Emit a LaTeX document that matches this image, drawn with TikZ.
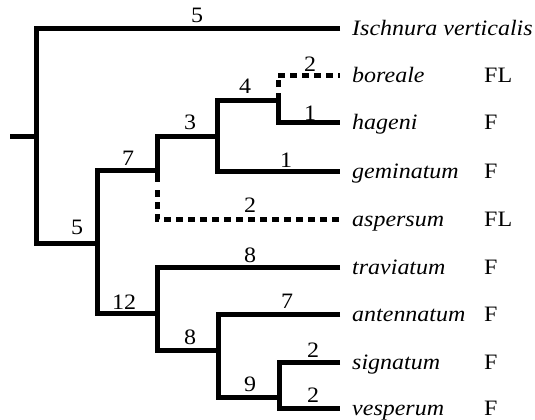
\documentclass[tikz,border=0pt]{standalone}
\usepackage{fontspec}
\setmainfont{Liberation Serif}[FakeStretch=1.09]
\begin{document}
\begin{tikzpicture}[x=1bp,y=-1bp,
    branch/.style={line width=5bp,line join=miter,line cap=butt},
    lossbranch/.style={branch,dash pattern=on 7bp off 5bp},
    brlen/.style={inner sep=0pt,font=\fontsize{22bp}{26bp}\selectfont},
    taxon/.style={anchor=base west,inner sep=0pt,font=\fontsize{22bp}{26bp}\selectfont\itshape},
    trait/.style={anchor=base west,inner sep=0pt,font=\fontsize{22bp}{26bp}\selectfont}]
  \useasboundingbox (0,0) rectangle (535,419);

  % branch tips (right ends of the terminal branches)
  \coordinate (tIsc) at (340,28);
  \coordinate (tBor) at (340,75);
  \coordinate (tHag) at (340,122);
  \coordinate (tGem) at (340,171);
  \coordinate (tAsp) at (340,219);
  \coordinate (tTra) at (340,267);
  \coordinate (tAnt) at (340,314);
  \coordinate (tSig) at (340,362);
  \coordinate (tVes) at (340,408);

  % internal nodes (where each stem meets its vertical bar)
  \coordinate (base) at (10,136);
  \coordinate (root) at (36,136);
  \coordinate (nA) at (97,243);
  \coordinate (nB) at (157,170);
  \coordinate (nBs) at (157,182);
  \coordinate (nBd) at (157,190);
  \coordinate (nC) at (217,136);
  \coordinate (nD) at (278,100);
  \coordinate (nDs) at (278,93);
  \coordinate (nDd) at (278,87);
  \coordinate (nE) at (157,313);
  \coordinate (nF) at (218,350);
  \coordinate (nG) at (279,397);

  % tree
  \draw[branch] (base) -- (root);
  \draw[branch] (tIsc) -| (root) |- (nA);
  \draw[branch] (nB) -| (nA) |- (nE);
  \draw[branch] (nC) -| (nB) -- (nBs);
  \draw[lossbranch] (nBd) |- (tAsp);
  \draw[branch] (nD) -| (nC) |- (tGem);
  \draw[branch] (nDs) |- (tHag);
  \draw[lossbranch] (nDd) |- (tBor);
  \draw[branch] (tTra) -| (nE) |- (nF);
  \draw[branch] (tAnt) -| (nF) |- (nG);
  \draw[branch] (tSig) -| (nG) |- (tVes);

  % branch lengths
  \node[brlen] (lIsc) at (197,15.5) {5};
  \node[brlen] (lBor) at (310,64) {2};
  \node[brlen] (lHag) at (310,113) {1};
  \node[brlen] (lD)   at (245,86) {4};
  \node[brlen] (lC)   at (190,122) {3};
  \node[brlen] (lB)   at (128,158) {7};
  \node[brlen] (lGem) at (286,160) {1};
  \node[brlen] (lAsp) at (250,205) {2};
  \node[brlen] (lA)   at (77,227) {5};
  \node[brlen] (lTra) at (250,255) {8};
  \node[brlen] (lE)   at (124,302) {12};
  \node[brlen] (lF)   at (190,337) {8};
  \node[brlen] (lAnt) at (287,301.5) {7};
  \node[brlen] (lG)   at (250,384) {9};
  \node[brlen] (lSig) at (313,350) {2};
  \node[brlen] (lVes) at (313,395) {2};

  % taxon names
  \node[taxon] (Isc) at (352,35) {Ischnura verticalis};
  \node[taxon] (Bor) at (352,82) {boreale};
  \node[taxon] (Hag) at (352,129) {hageni};
  \node[taxon] (Gem) at (352,178) {geminatum};
  \node[taxon] (Asp) at (352,226) {aspersum};
  \node[taxon] (Tra) at (352,274) {traviatum};
  \node[taxon] (Ant) at (352,321) {antennatum};
  \node[taxon] (Sig) at (352,369) {signatum};
  \node[taxon] (Ves) at (352,415) {vesperum};

  % character states
  \node[trait] (sBor) at (484,82) {FL};
  \node[trait] (sHag) at (484,129) {F};
  \node[trait] (sGem) at (484,178) {F};
  \node[trait] (sAsp) at (484,226) {FL};
  \node[trait] (sTra) at (484,274) {F};
  \node[trait] (sAnt) at (484,321) {F};
  \node[trait] (sSig) at (484,369) {F};
  \node[trait] (sVes) at (484,415) {F};
\end{tikzpicture}
\end{document}
